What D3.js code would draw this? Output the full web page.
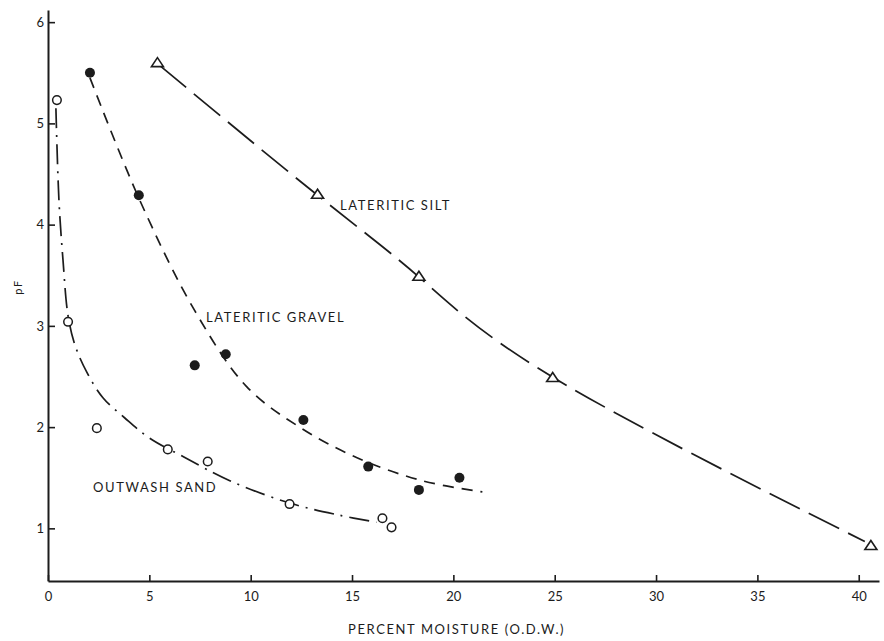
<!DOCTYPE html>
<html>
<head>
<meta charset="utf-8">
<script src="https://cdn.jsdelivr.net/npm/d3@7"></script>
<style>
  body { margin: 0; background: #fff; }
  svg { display: block; }
  .axis path, .axis line { stroke: #1c1c1c; }
  .axis path { stroke-width: 2; }
  .axis line { stroke-width: 1.6; }
  .axis text { font-family: Lato, "Open Sans", sans-serif; font-size: 13px; fill: #1c1c1c; }
  .curve { fill: none; stroke: #1c1c1c; stroke-width: 1.7; }
  .label { font-family: Lato, "Open Sans", sans-serif; font-size: 13px; fill: #1c1c1c; letter-spacing: 1.6px; }
</style>
</head>
<body>
<div id="chart"></div>
<script>
// measured points (percent moisture, pF)
var siltX = [5.4, 13.3, 18.3, 24.9, 40.6]
var siltY = [5.6, 4.3, 3.49, 2.49, 0.83]
var gravelX = [2.07, 4.48, 7.24, 8.77, 12.6, 15.8, 18.3, 20.3]
var gravelY = [5.5, 4.29, 2.61, 2.72, 2.07, 1.61, 1.38, 1.5]
var sandX = [0.44, 0.99, 2.41, 5.91, 7.88, 11.92, 16.5, 16.95]
var sandY = [5.23, 3.04, 1.99, 1.78, 1.66, 1.24, 1.1, 1.01]

// hand drawn curves
var siltCurveX = [5.52, 13.3, 18.32, 24.93, 40.3]
var siltCurveY = [5.57, 4.29, 3.48, 2.49, 0.87]
var gravelCurveX = [2.07, 4.53, 7.24, 9.8, 12.41, 15.22, 18.47, 21.43]
var gravelCurveY = [5.45, 4.24, 3.15, 2.4, 2.0, 1.7, 1.47, 1.36]
var sandCurveX = [0.39, 0.54, 0.74, 0.99, 1.33, 1.92, 2.71, 3.79, 5.02, 6.75, 8.97, 11.92, 14.38, 16.21]
var sandCurveY = [5.15, 4.24, 3.65, 3.1, 2.81, 2.54, 2.29, 2.09, 1.89, 1.7, 1.47, 1.25, 1.13, 1.06]

var xTicks = [0, 5, 10, 15, 20, 25, 30, 35, 40]
var yTicks = [1, 2, 3, 4, 5, 6]

var width = 884, height = 641

function zip(xs, ys) {
  return xs.map(function (v, i) { return [v, ys[i]] })
}

var svg = d3.select("#chart").append("svg")
  .attr("width", width)
  .attr("height", height)

var x = d3.scaleLinear().domain([0, 41]).range([48, 879])
var y = d3.scaleLinear().domain([0.48, 6.12]).range([581, 10])

// axes, ticks point inward
svg.append("g")
  .attr("class", "axis")
  .attr("transform", "translate(0," + y(0.48) + ")")
  .call(d3.axisBottom(x).tickValues(xTicks).tickFormat(d3.format("d"))
    .tickSizeInner(-6).tickSizeOuter(0).tickPadding(11))

svg.append("g")
  .attr("class", "axis")
  .attr("transform", "translate(" + x(0) + ",0)")
  .call(d3.axisLeft(y).tickValues(yTicks).tickFormat(d3.format("d"))
    .tickSizeInner(-7).tickSizeOuter(0).tickPadding(4))

var line = d3.line()
  .x(function (d) { return x(d[0]) })
  .y(function (d) { return y(d[1]) })

svg.append("path")
  .attr("class", "curve")
  .attr("d", line.curve(d3.curveNatural)(zip(siltCurveX, siltCurveY)))
  .attr("stroke-dasharray", "34,10")

svg.append("path")
  .attr("class", "curve")
  .attr("d", line.curve(d3.curveCatmullRom.alpha(0.5))(zip(gravelCurveX, gravelCurveY)))
  .attr("stroke-dasharray", "11,8")

svg.append("path")
  .attr("class", "curve")
  .attr("d", line.curve(d3.curveCatmullRom.alpha(0.5))(zip(sandCurveX, sandCurveY)))
  .attr("stroke-dasharray", "20,7,2,7")

// markers
svg.append("g").selectAll("path")
  .data(zip(siltX, siltY))
  .join("path")
    .attr("transform", function (d) { return "translate(" + x(d[0]) + "," + y(d[1]) + ")" })
    .attr("d", "M-6,4L6,4L0,-5Z")
    .attr("fill", "#fff")
    .attr("stroke", "#1c1c1c")
    .attr("stroke-width", 1.6)

svg.append("g").selectAll("circle")
  .data(zip(gravelX, gravelY))
  .join("circle")
    .attr("cx", function (d) { return x(d[0]) })
    .attr("cy", function (d) { return y(d[1]) })
    .attr("r", 5)
    .attr("fill", "#1c1c1c")

svg.append("g").selectAll("circle")
  .data(zip(sandX, sandY))
  .join("circle")
    .attr("cx", function (d) { return x(d[0]) })
    .attr("cy", function (d) { return y(d[1]) })
    .attr("r", 4.3)
    .attr("fill", "#fff")
    .attr("stroke", "#1c1c1c")
    .attr("stroke-width", 1.5)

// curve labels
svg.append("text").attr("class", "label")
  .attr("x", 340).attr("y", 210)
  .text("LATERITIC SILT")

svg.append("text").attr("class", "label")
  .attr("x", 206).attr("y", 322)
  .text("LATERITIC GRAVEL")

svg.append("text").attr("class", "label")
  .attr("x", 93).attr("y", 492)
  .text("OUTWASH SAND")

svg.append("text").attr("class", "label")
  .attr("x", 348).attr("y", 634)
  .text("PERCENT MOISTURE (O.D.W.)")

svg.append("text").attr("class", "label")
  .attr("transform", "translate(22,287) rotate(-90)")
  .attr("text-anchor", "middle")
  .style("font-size", "11px")
  .text("pF")
</script>
</body>
</html>
